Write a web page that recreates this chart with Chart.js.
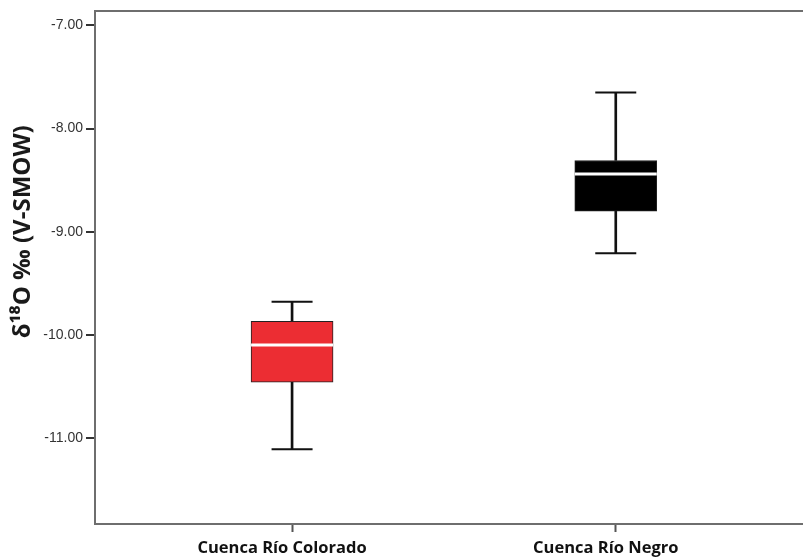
<!DOCTYPE html>
<html>
<head>
<meta charset="utf-8">
<script src="https://cdn.jsdelivr.net/npm/chart.js@4.4.1/dist/chart.umd.min.js"></script>
<style>
  html, body { margin: 0; padding: 0; background: #fff; overflow: hidden; }
  #outer { width: 803px; height: 559px; overflow: hidden; position: relative; }
  #wrap { width: 815px; height: 559px; position: relative; }
</style>
</head>
<body>
<div id="outer"><div id="wrap"><canvas id="c"></canvas></div></div>
<script>
// ---- data ----
const categories = ['Cuenca Río Colorado', 'Cuenca Río Negro'];
const whiskerLow  = [-11.11, -9.21];
const q1          = [-10.46, -8.80];
const median      = [-10.10, -8.44];
const q3          = [-9.87, -8.31];
const whiskerHigh = [-9.68, -7.65];
const boxColors   = ['#ec2d33', '#000000'];
const yTicks      = [-11, -10, -9, -8, -7];
const yTitle      = 'δ¹⁸O ‰ (V-SMOW)';

const idx = categories.map((_, i) => i);
const X_MIN = -0.6088, X_MAX = 1.6155;
const Y_MIN = -11.835, Y_MAX = -6.8636;
const AXIS = '#6e6e6e';

const yTitlePlugin = {
  id: 'yTitle',
  afterDraw(chart) {
    const ctx = chart.ctx;
    const area = chart.chartArea;
    ctx.save();
    ctx.translate(23, area.top + (area.bottom - area.top) * 0.43);
    ctx.rotate(-Math.PI / 2);
    ctx.font = 'bold 24px "Open Sans", "Liberation Sans", sans-serif';
    ctx.fillStyle = '#1a1a1a';
    ctx.textAlign = 'center';
    ctx.textBaseline = 'middle';
    ctx.fillText(yTitle, 0, 0);
    ctx.restore();
  }
};

new Chart(document.getElementById('c'), {
  type: 'bar',
  data: {
    datasets: [
      {
        type: 'scatter', label: 'median', order: 0,
        data: idx.map(i => ({ x: i, y: median[i] })),
        pointStyle: 'line', radius: 41, hoverRadius: 41,
        borderColor: '#ffffff', borderWidth: 3
      },
      {
        type: 'scatter', label: 'caps', order: 1,
        data: idx.flatMap(i => [{ x: i, y: whiskerLow[i] }, { x: i, y: whiskerHigh[i] }]),
        pointStyle: 'line', radius: 20.5, hoverRadius: 20.5,
        borderColor: '#111111', borderWidth: 2
      },
      {
        label: 'box', order: 2, grouped: false,
        data: idx.map(i => ({ x: i, y: [q1[i], q3[i]] })),
        backgroundColor: boxColors, borderColor: '#222', borderWidth: 1,
        borderSkipped: false, barThickness: 82
      },
      {
        label: 'upper whisker', order: 3, grouped: false,
        data: idx.map(i => ({ x: i, y: [q3[i], whiskerHigh[i]] })),
        backgroundColor: '#111111', borderWidth: 0, barThickness: 2
      },
      {
        label: 'lower whisker', order: 3, grouped: false,
        data: idx.map(i => ({ x: i, y: [whiskerLow[i], q1[i]] })),
        backgroundColor: '#111111', borderWidth: 0, barThickness: 2
      }
    ]
  },
  options: {
    responsive: true,
    maintainAspectRatio: false,
    animation: false,
    layout: { padding: 0, autoPadding: false },
    plugins: { legend: { display: false }, tooltip: { enabled: false } },
    scales: {
      x: {
        type: 'linear', position: 'bottom', offset: false,
        min: X_MIN, max: X_MAX,
        afterBuildTicks: s => { s.ticks = idx.map(v => ({ value: v })); },
        afterFit: s => { s.height = 35; },
        ticks: {
          callback: v => categories[v] ?? '',
          font: { family: '"Open Sans", "Liberation Sans", sans-serif', size: 16.5, weight: 'bold' },
          color: '#111', padding: 6, labelOffset: -10, maxRotation: 0, autoSkip: false
        },
        grid: { display: true, offset: false, drawOnChartArea: false, tickLength: 8, tickWidth: 2, tickColor: '#555' },
        border: { display: true, color: AXIS, width: 2 }
      },
      y: {
        type: 'linear', position: 'left',
        min: Y_MIN, max: Y_MAX,
        afterBuildTicks: s => { s.ticks = yTicks.concat([Y_MAX]).map(v => ({ value: v })); },
        afterFit: s => { s.width = 95; },
        ticks: {
          callback: v => yTicks.includes(v) ? v.toFixed(2) : '',
          font: { family: '"Liberation Sans", Arial, sans-serif', size: 14 },
          color: '#333', padding: 3
        },
        grid: {
          display: true, drawOnChartArea: true, tickLength: 9,
          color: c => (c.tick && c.tick.value === Y_MAX) ? AXIS : 'rgba(0,0,0,0)',
          lineWidth: 2,
          tickWidth: 2,
          tickColor: c => (c.tick && c.tick.value === Y_MAX) ? 'rgba(0,0,0,0)' : '#333'
        },
        border: { display: true, color: AXIS, width: 2 }
      }
    }
  },
  plugins: [yTitlePlugin]
});
</script>
</body>
</html>
